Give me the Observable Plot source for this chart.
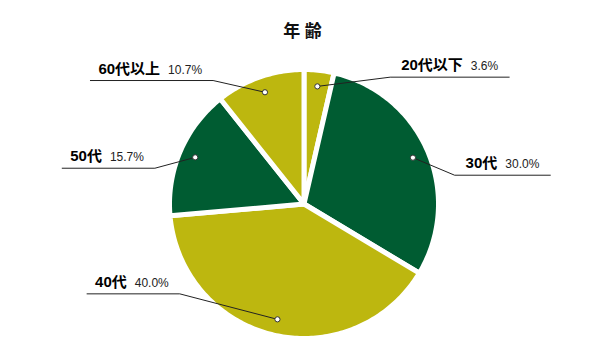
<!DOCTYPE html>
<html><head><meta charset="utf-8">
<script src="https://cdn.jsdelivr.net/npm/d3@7"></script>
<script src="https://cdn.jsdelivr.net/npm/@observablehq/plot@0.6"></script>
<style>
body{margin:0;background:#fff;}
#wrap{width:613px;height:358px;position:relative;overflow:hidden;}
#title{height:50px;box-sizing:border-box;padding-top:23px;padding-right:8px;text-align:center;font:bold 17px/17px "Liberation Sans","Noto Sans CJK JP",sans-serif;color:#111;}
#chart svg{display:block;}
</style></head><body>
<div id="wrap"><div id="title"></div><div id="chart"></div></div>
<script>
// ---- data ----
const titleText = "年 齢";
const categories = ["20代以下", "30代", "40代", "50代", "60代以上"];
const shares = [3.6, 30.0, 40.0, 15.7, 10.7];

// ---- style / layout ----
const palette = ["#bdb70f", "#005c32"];
const W = 613, H = 308;
const cx = 303.5, cy = 153.5, R = 134.5;
// height of each label's underline, in pie radii (annotation placement)
const labelLineLevel = {"20代以下": 0.943, "30代": 0.214, "40代": -0.668, "50代": 0.266, "60代以上": 0.918};
const fontFamily = "'Liberation Sans', 'Noto Sans CJK JP', sans-serif";
const nameSize = 15, pctSize = 12;

document.getElementById("title").textContent = titleText;

const total = d3.sum(shares);
let acc = 0;
const slices = categories.map((c, i) => {
  const a0 = acc / total * 2 * Math.PI; acc += shares[i];
  const a1 = acc / total * 2 * Math.PI;
  return {c, i, a0, a1, mid: (a0 + a1) / 2, share: shares[i]};
});

const slicePts = slices.flatMap(s => {
  const n = Math.max(2, Math.ceil((s.a1 - s.a0) / (Math.PI / 180)));
  const pts = [{c: s.c, i: s.i, x: 0, y: 0}];
  for (let k = 0; k <= n; k++) {
    const a = s.a0 + (s.a1 - s.a0) * k / n;
    pts.push({c: s.c, i: s.i, x: Math.sin(a), y: Math.cos(a)});
  }
  pts.push({c: s.c, i: s.i, x: 0, y: 0});
  return pts;
});

const ctx = document.createElement("canvas").getContext("2d");
function tw(text, font) { ctx.font = font; return ctx.measureText(text).width; }

const labels = slices.map(s => {
  const side = Math.sin(s.mid) >= 0 ? 1 : -1;
  const dx = 0.88 * Math.sin(s.mid), dy = 0.88 * Math.cos(s.mid);
  const ey = labelLineLevel[s.c];
  const ex = side * Math.sqrt(1.14 * 1.14 - ey * ey);
  const pct = s.share.toFixed(1) + "%";
  const nameW = tw(s.c, `bold ${nameSize}px ${fontFamily}`);
  const pctW = tw(pct, `${pctSize}px ${fontFamily}`);
  const block = nameW + 8 + pctW;
  let nameX, endX;
  if (side > 0) { nameX = ex + 11 / R; endX = ex + (11 + block + 11) / R; }
  else { nameX = ex - (11 + block) / R; endX = nameX - 8 / R; }
  const pctX = nameX + (nameW + 8) / R;
  return {c: s.c, pct, dx, dy, ex, ey, nameX, pctX, endX};
});
const leaders = labels.flatMap(l => [
  {c: l.c, x: l.dx, y: l.dy}, {c: l.c, x: l.ex, y: l.ey}, {c: l.c, x: l.endX, y: l.ey}
]);

const chart = Plot.plot({
  width: W, height: H,
  margin: 0,
  x: {domain: [-cx / R, (W - cx) / R], axis: null},
  y: {domain: [-(H - cy) / R, cy / R], axis: null},
  color: {type: "identity"},
  marks: [
    Plot.line(slicePts, {x: "x", y: "y", z: "c", fill: d => palette[d.i % 2], stroke: "white", strokeWidth: 5, strokeLinejoin: "round", strokeLinecap: "round"}),
    Plot.line(leaders, {x: "x", y: "y", z: "c", stroke: "#222", strokeWidth: 1}),
    Plot.dot(labels, {x: "dx", y: "dy", r: 2.6, fill: "white", stroke: "#333", strokeWidth: 1}),
    Plot.text(labels, {x: "nameX", y: "ey", text: "c", textAnchor: "start", lineAnchor: "bottom", dy: -7, fontSize: nameSize, fontWeight: "bold", fontFamily, fill: "#000"}),
    Plot.text(labels, {x: "pctX", y: "ey", text: "pct", textAnchor: "start", lineAnchor: "bottom", dy: -7, fontSize: pctSize, fontFamily, fill: "#222"})
  ]
});
document.getElementById("chart").appendChild(chart);
</script>
</body></html>
